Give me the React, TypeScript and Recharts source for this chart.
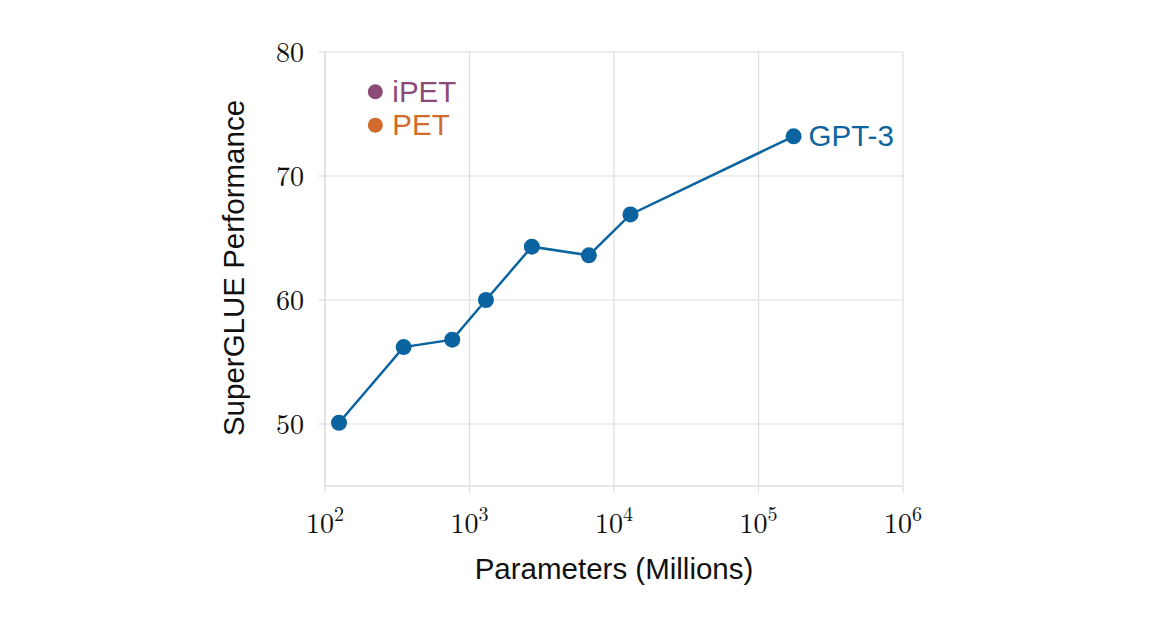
import {
    ComposedChart,
    Line,
    Scatter,
    XAxis,
    YAxis,
    CartesianGrid,
} from 'recharts';

const modelParams = [125, 350, 760, 1300, 2700, 6700, 13000, 175000];
const gpt3Scores = [50.1, 56.2, 56.8, 60.0, 64.3, 63.6, 66.9, 73.2];

const petNames = ['iPET', 'PET'];
const petParams = [223, 223];
const petScores = [76.8, 74.1];

const xTicks = [100, 1000, 10000, 100000, 1000000];
const yTicks = [50, 60, 70, 80];

const BLUE = '#0b64a0';
const PET_COLORS = ['#8c4a78', '#d06b2c'];
const GRID = '#dedede';
const SERIF = '"Latin Modern Roman", "Liberation Serif", "DejaVu Serif", serif';
const SANS = '"Liberation Sans", Arial, Helvetica, sans-serif';

const gpt3Data = modelParams.map((p, i) => ({ params: p, score: gpt3Scores[i] }));
const petData = petNames.map((name, i) => ({
    name,
    params: petParams[i],
    score: petScores[i],
    color: PET_COLORS[i],
}));

const XTick = (props: any) => {
    const { x, y, payload } = props;
    const exp = Math.round(Math.log10(payload.value));
    return (
        <text x={x} y={y + 38} textAnchor="middle" fontFamily={SERIF} fontSize={28} fill="#111">
            <tspan>10</tspan>
            <tspan dy={-12} fontSize={20}>{exp}</tspan>
        </text>
    );
};

const YTick = (props: any) => {
    const { x, y, payload } = props;
    return (
        <text x={x} y={y + 10} textAnchor="end" fontFamily={SERIF} fontSize={28} fill="#111">
            {payload.value}
        </text>
    );
};

const PetDot = (props: any) => {
    const { cx, cy, payload } = props;
    return (
        <g>
            <circle cx={cx} cy={cy} r={7.5} fill={payload.color} />
            <text x={cx + 17} y={cy + 10} fontFamily={SANS} fontSize={29.5} fill={payload.color}>
                {payload.name}
            </text>
        </g>
    );
};

const Gpt3Label = (props: any) => {
    const { x, y, index } = props;
    if (index !== gpt3Data.length - 1) return null;
    return (
        <text x={x + 15} y={y + 10} fontFamily={SANS} fontSize={29.5} fill={BLUE}>
            GPT-3
        </text>
    );
};

export default function App() {
    return (
        <div style={{ margin: '-8px 0 0 -8px', width: 1162, height: 629, background: '#fff' }}>
            <ComposedChart
                width={1162}
                height={629}
                margin={{ top: 52, right: 259, bottom: 0, left: 0 }}
            >
                <CartesianGrid stroke={GRID} strokeWidth={1.2} />
                <XAxis
                    type="number"
                    dataKey="params"
                    scale="log"
                    domain={[100, 1000000]}
                    ticks={xTicks}
                    allowDataOverflow
                    height={143}
                    stroke={GRID}
                    strokeWidth={1.2}
                    tickSize={7}
                    tick={<XTick />}
                    label={{
                        value: 'Parameters (Millions)',
                        position: 'insideTop',
                        offset: 72,
                        fontFamily: SANS,
                        fontSize: 29.5,
                        fill: '#111',
                    }}
                />
                <YAxis
                    type="number"
                    dataKey="score"
                    domain={[45, 80]}
                    ticks={yTicks}
                    allowDataOverflow
                    width={325}
                    stroke={GRID}
                    strokeWidth={1.2}
                    tickSize={6}
                    tickMargin={15}
                    tick={<YTick />}
                />
                <text
                    x={244}
                    y={268}
                    transform="rotate(-90 244 268)"
                    textAnchor="middle"
                    fontFamily={SANS}
                    fontSize={29.5}
                    fill="#111"
                >
                    SuperGLUE Performance
                </text>
                <Line
                    data={gpt3Data}
                    dataKey="score"
                    stroke={BLUE}
                    strokeWidth={2.5}
                    dot={{ r: 8, fill: BLUE, stroke: 'none' }}
                    activeDot={false}
                    label={<Gpt3Label />}
                    isAnimationActive={false}
                />
                <Scatter
                    data={petData}
                    dataKey="score"
                    shape={<PetDot />}
                    isAnimationActive={false}
                />
            </ComposedChart>
        </div>
    );
}
